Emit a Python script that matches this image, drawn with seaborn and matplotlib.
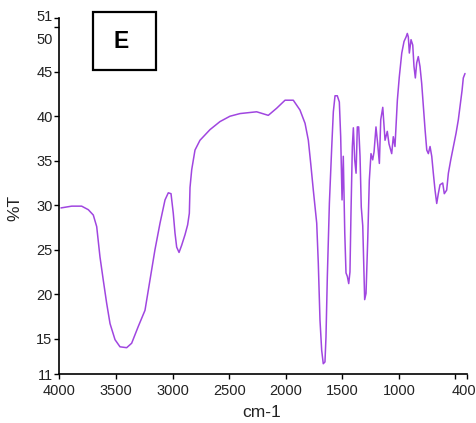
import matplotlib
matplotlib.use("Agg")
import matplotlib.pyplot as plt
import matplotlib.transforms as mtransforms
from matplotlib.patches import Rectangle
from matplotlib import font_manager
import seaborn as sns
import pandas as pd

# ---- data ----
wavenumber = [3987, 3892, 3804, 3745, 3701, 3671, 3642, 3613, 3583, 3553, 3509, 3465,
              3406, 3362, 3303, 3244, 3200, 3156, 3111, 3067, 3038, 3014, 2994, 2979,
              2964, 2943, 2920, 2890, 2867, 2852, 2846, 2831, 2802, 2758, 2669, 2581,
              2493, 2404, 2257, 2154, 2080, 2006, 1933, 1874, 1829, 1800, 1779, 1756,
              1726, 1712, 1697, 1682, 1668, 1653, 1644, 1632, 1614, 1593, 1579, 1564,
              1544, 1526, 1514, 1502, 1491, 1478, 1467, 1455, 1443, 1432, 1423, 1411,
              1402, 1390, 1378, 1367, 1355, 1343, 1332, 1319, 1310, 1302, 1290, 1275,
              1261, 1246, 1231, 1219, 1202, 1187, 1172, 1160, 1142, 1122, 1102, 1087,
              1063, 1049, 1034, 1025, 1013, 996, 974, 954, 936, 925, 916, 907, 892,
              877, 866, 854, 842, 828, 813, 798, 783, 768, 753, 739, 724, 709, 695,
              680, 665, 651, 636, 612, 598, 577, 562, 541, 518, 494, 474, 459, 441,
              430, 415]
transmittance = [29.7, 29.9, 29.9, 29.5, 28.9, 27.6, 24.2, 21.6, 19.0, 16.7, 14.9, 14.1,
                 14.0, 14.5, 16.4, 18.2, 21.6, 25.0, 28.0, 30.6, 31.4, 31.3, 29.1, 26.9,
                 25.3, 24.7, 25.5, 26.7, 27.8, 29.1, 32.0, 34.0, 36.2, 37.3, 38.5, 39.4,
                 40.0, 40.3, 40.5, 40.1, 40.9, 41.8, 41.8, 40.7, 39.2, 37.3, 34.7, 31.7,
                 28.0, 23.5, 17.1, 13.7, 12.2, 12.4, 15.2, 22.0, 30.2, 36.6, 40.5, 42.3,
                 42.3, 41.6, 37.7, 30.6, 35.5, 26.9, 22.4, 22.0, 21.2, 22.5, 29.1, 36.6,
                 38.7, 35.1, 33.6, 38.8, 38.8, 35.5, 29.8, 27.7, 23.1, 19.4, 20.1, 26.1,
                 32.8, 35.8, 35.1, 36.0, 38.8, 36.9, 34.7, 39.6, 41.0, 37.3, 38.3, 36.9,
                 35.8, 37.7, 36.6, 38.8, 41.8, 44.4, 47.1, 48.4, 48.9, 49.3, 48.9, 47.1,
                 48.6, 48.0, 45.6, 44.3, 46.0, 46.7, 45.6, 43.7, 41.1, 38.5, 36.2, 35.8,
                 36.6, 35.5, 33.6, 31.7, 30.2, 31.3, 32.3, 32.5, 31.3, 31.7, 33.6, 35.1,
                 36.6, 38.1, 39.6, 41.1, 42.9, 44.3, 44.8]

x_ticks = [4000, 3500, 3000, 2500, 2000, 1500, 1000, 500, 400]
x_tick_labels = ["4000", "3500", "3000", "2500", "2000", "1500", "1000", "", "400"]
y_ticks = [11, 15, 20, 25, 30, 35, 40, 45, 50, 51]
y_tick_labels = ["11", "15", "20", "25", "30", "35", "40", "45", "50", "51"]

df = pd.DataFrame({"wn": wavenumber, "T": transmittance})

sns.set_style("ticks")
installed = {f.name for f in font_manager.fontManager.ttflist}
if "Liberation Sans Narrow" in installed:
    main_family = ["Liberation Sans Narrow", "DejaVu Sans"]
    tick_size, xlabel_size = 11.5, 14
else:
    main_family = ["Liberation Sans", "DejaVu Sans"]
    tick_size, xlabel_size = 10.5, 12.5
plt.rcParams["font.family"] = main_family

fig = plt.figure(figsize=(4.77, 4.23), dpi=100)
ax = fig.add_axes([0.1247, 0.1149, 0.8537, 0.8418])

sns.lineplot(data=df, x="wn", y="T", sort=False, color="#a046e0", linewidth=1.1,
             ax=ax, estimator=None)

ax.set_xlim(4000, 400)
ax.set_ylim(11, 51)
ax.set_xticks(x_ticks)
ax.set_xticklabels(x_tick_labels, fontsize=tick_size, color="#222222")
ax.set_yticks(y_ticks)
ax.set_yticklabels(y_tick_labels, fontsize=tick_size, color="#222222")
ax.tick_params(axis="both", direction="out", length=3.5, width=1, pad=1.5, color="black")
ax.tick_params(axis="x", pad=3.5)

def shift(lbl, dx_px, dy_px):
    lbl.set_transform(lbl.get_transform() +
                      mtransforms.ScaledTranslation(dx_px / 100, dy_px / 100, fig.dpi_scale_trans))

for lbl in ax.get_yticklabels():
    if lbl.get_text() == "50":
        shift(lbl, 0, -11)
    if lbl.get_text() == "51":
        shift(lbl, 0, 3)
for lbl in ax.get_xticklabels():
    if lbl.get_text() == "400":
        shift(lbl, -3, 0)

for s in ["top", "right"]:
    ax.spines[s].set_visible(False)
for s in ["left", "bottom"]:
    ax.spines[s].set_color("black")
    ax.spines[s].set_linewidth(1.2)

ax.set_xlabel("cm-1", fontsize=xlabel_size, color="#222222")
ax.xaxis.set_label_coords(0.496, -0.085)
ax.set_ylabel("%T", fontsize=12.5, color="#222222")
ax.yaxis.set_label_coords(-0.092, 0.467)

fig.patches.append(Rectangle((93 / 477, 1 - 70 / 423), 63 / 477, 58 / 423,
                             transform=fig.transFigure, fill=False,
                             edgecolor="black", linewidth=1.6))
fig.text(121.5 / 477, 1 - 41 / 423, "E", fontsize=16.5, fontweight="bold",
         ha="center", va="center", color="black")

fig.savefig("out.png", dpi=100)
